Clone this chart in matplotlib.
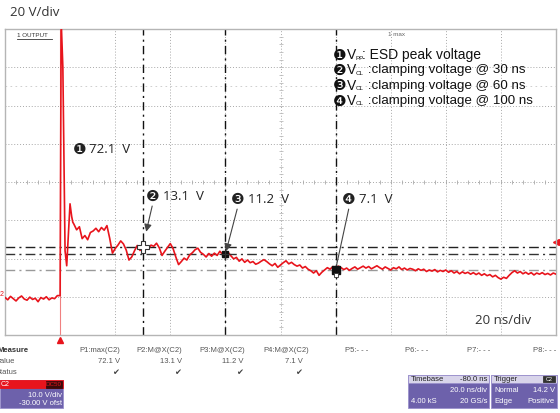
import matplotlib.pyplot as plt
import matplotlib.patches as mpatches
from matplotlib.lines import Line2D
import numpy as np

W, H = 560, 414

# scope trace, ns / V  (C2 output during an ESD strike)
t_pre = np.arange(-20, 0)
v_pre = [-0.2, -0.8, 0.1, -0.5, -1.1, -0.3, 0.2, -0.6, -0.9, -0.1,
         -0.7, -0.4, -1.3, -0.2, -0.6, 0.0, -0.8, -0.3, -0.5, 0.3]
t_hit = [0, 0.4, 1.0, 1.8, 2.4, 3.0, 3.6, 4.2, 4.6]
v_hit = [0.3, 72.1, 60.0, 12.0, 8.1, 16.0, 24.3, 21.0, 19.5]
t_post = np.arange(5, 181)
v_post = [19.0, 17.5, 18.3, 15.2, 16.0, 14.9, 16.8, 17.2, 17.9, 17.0,
          18.1, 17.4, 18.6, 15.3, 11.4, 12.6, 13.5, 14.6, 13.8, 12.2,
          9.6, 10.4, 12.0, 13.4, 12.1, 12.6, 13.1, 12.4, 13.5, 13.2,
          14.0, 12.8, 10.8, 11.9, 12.9, 13.9, 12.6, 10.4, 8.4, 9.2,
          10.1, 9.6, 10.9, 11.5, 12.3, 12.7, 11.6, 11.1, 10.4, 11.3,
          10.6, 11.4, 10.8, 11.9, 11.0, 11.3, 11.6, 10.7, 9.9, 10.3,
          9.3, 9.9, 9.0, 9.6, 8.9, 9.2, 8.5, 8.8, 9.3, 9.7,
          9.2, 8.6, 8.1, 8.7, 7.7, 8.3, 8.9, 9.4, 8.6, 9.0,
          8.4, 8.0, 8.3, 7.5, 7.9, 7.2, 6.8, 6.2, 6.8, 5.6,
          6.4, 7.0, 7.6, 7.2, 7.9, 7.4, 8.0, 7.6, 7.1, 7.5,
          6.9, 7.4, 7.8, 7.2, 7.6, 8.0, 7.5, 7.9, 7.3, 7.7,
          8.1, 7.6, 7.2, 7.8, 7.4, 7.0, 7.6, 7.3, 7.8, 7.1,
          7.5, 7.0, 7.4, 7.2, 6.8, 7.3, 6.9, 7.2, 6.6, 7.0,
          6.7, 7.1, 6.5, 6.9, 6.6, 7.0, 6.4, 6.8, 6.2, 6.6,
          6.0, 6.5, 6.1, 6.4, 5.9, 6.3, 5.8, 6.2, 5.6, 6.0,
          5.5, 5.8, 5.2, 5.6, 5.0, 4.6, 5.1, 4.8, 5.6, 6.3,
          6.8, 6.2, 6.6, 6.0, 6.4, 5.9, 6.3, 5.7, 6.2, 5.9,
          6.3, 5.8, 6.1, 5.7, 6.2, 5.9]

cursor_t = [30, 60, 100]
cursor_v = [13.1, 11.2, 7.1]
peak_v = 72.1
trig_level = 14.2

legend_sub = ["PP", "CL", "CL", "CL"]
legend_txt = [": ESD peak voltage", " :clamping voltage @ 30 ns",
              " :clamping voltage @ 60 ns", " :clamping voltage @ 100 ns"]
digits = ["\u2776", "\u2777", "\u2778", "\u2779"]

meas_names = ["P1:max(C2)", "P2:M@X(C2)", "P3:M@X(C2)", "P4:M@X(C2)"]
meas_vals = [peak_v] + cursor_v
empty_names = ["P5:- - -", "P6:- - -", "P7:- - -", "P8:- - -"]

t = np.concatenate([t_pre, t_hit, t_post])
v = np.concatenate([v_pre, v_hit, v_post])

RED = "#e8141c"
SANS = ["Liberation Sans", "DejaVu Sans"]
OPEN = ["Open Sans", "DejaVu Sans"]
DJ = ["DejaVu Sans"]


def fx(px):
    return px / W


def fy(py):
    return 1 - py / H


fig = plt.figure(figsize=(W / 100, H / 100), dpi=100)
ax = fig.add_axes([fx(5), fy(336), 551 / W, 306 / H])
ax.set_xlim(-20, 180)
ax.set_ylim(-10, 70)
ax.set_xticks(np.arange(-20, 181, 20))
ax.set_yticks(np.arange(-10, 71, 10))
ax.tick_params(length=0, labelbottom=False, labelleft=False)
ax.grid(True, color="#a8a8a8", linestyle=(0, (1, 2)), linewidth=0.7)
for s in ax.spines.values():
    s.set_color("#b5b5b5")
    s.set_linewidth(1)

# centre graticule ticks
ax.plot(np.arange(-20, 181, 4), np.full(51, 30), "|", color="#aaa", ms=3, mew=0.6)
ax.plot(np.full(41, 80), np.arange(-10, 71, 2), "_", color="#bbb", ms=3, mew=0.6)
ax.axhline(55, color="#c8c8c8", linestyle=(0, (2, 4)), linewidth=0.6)

# cursors
ax.axhline(cursor_v[0], color="#222", linestyle=(0, (7, 3, 1.5, 3)), linewidth=1)
ax.axhline(cursor_v[1], color="#333", linestyle=(0, (7, 3, 1.5, 3)), linewidth=1)
ax.axhline(cursor_v[2], color="#999", linestyle=(0, (7, 3, 1.5, 3)), linewidth=1)
for ct in cursor_t:
    ax.axvline(ct, color="#111", linestyle=(0, (6, 3, 1.5, 3)), linewidth=1)

ax.axvline(0, color="#f08080", linewidth=0.8)
ax.plot(t, v, color=RED, linewidth=1.2, zorder=3)

# markers on the measured points
ax.plot(cursor_t[0], cursor_v[0], "P", ms=8, mfc="white", mec="#333", mew=0.8, zorder=4)
ax.plot(cursor_t[1], cursor_v[1], "s", ms=5, color="#111", zorder=4)
ax.plot(cursor_t[1], cursor_v[1], "+", ms=9, color="#333", mew=0.8, zorder=4)
ax.plot(cursor_t[2], cursor_v[2], "s", ms=5.5, color="#111", zorder=4)
ax.plot(cursor_t[2], cursor_v[2] - 1.4, "s", ms=3.5, mfc="white", mec="#333", mew=0.6, zorder=4)

# trigger markers
ax.plot([0], [-0.015], "^", color=RED, ms=5, transform=ax.get_xaxis_transform(), clip_on=False)
ax.plot([1.0], [trig_level], "<", color=RED, ms=5, transform=ax.get_yaxis_transform(), clip_on=False)

# callouts: big circled digit + value, arrow from the digit
ax.text(7.0, 38.7, digits[0], fontsize=11, family=DJ, color="#222", ha="center", va="center")
ax.text(10.6, 38.7, "72.1  V", fontsize=9.5, family=OPEN, color="#222", va="center")
call_xy = [(33.6, 26.4), (64.5, 25.6), (104.9, 25.6)]
call_style = [("-|>", 11), ("-|>", 2), ("-", 2)]
for i in range(3):
    dx, dy = call_xy[i]
    st, shr = call_style[i]
    ax.annotate(digits[i + 1], xy=(cursor_t[i], cursor_v[i]), xytext=(dx, dy),
                fontsize=11, family=DJ, color="#222", ha="center", va="center",
                arrowprops=dict(arrowstyle=st, color="#444", lw=0.8, shrinkA=0,
                                shrinkB=shr, relpos=(0.55, 0.15)))
    ax.text(dx + 3.6, dy, "%.1f  V" % cursor_v[i], fontsize=9.5, family=OPEN,
            color="#222", va="center")

# legend block
for i in range(4):
    y = 55 + i * 15.3
    fig.text(fx(339.5), fy(y), digits[i], fontsize=11, family=DJ, ha="center", va="center", color="#111")
    fig.text(fx(346.5), fy(y), "V", fontsize=10, family=SANS, va="center", color="#111")
    fig.text(fx(355.5), fy(y + 3), legend_sub[i], fontsize=4.5, family=SANS, va="center", color="#111")
    fig.text(fx(362.5 if i == 0 else 364), fy(y), legend_txt[i], fontsize=10 if i == 0 else 9.6,
             family=SANS, va="center", color="#111")

fig.text(fx(388), fy(35), "1 max", fontsize=4.5, family=SANS, va="center", color="#666")
fig.text(fx(17), fy(36), "1 OUTPUT", fontsize=4.5, family=SANS, va="center", color="#333")
fig.add_artist(Line2D([fx(17), fx(52)], [fy(40), fy(40)], color="#333", lw=0.6))
fig.text(fx(0), fy(294), "2", fontsize=5, family=SANS, va="center", color=RED)

fig.text(fx(10), fy(13), "20 V/div", fontsize=9.5, family=OPEN, va="center", color="#333")
fig.text(fx(475), fy(321), "20 ns/div", fontsize=9.5, family=OPEN, va="center", color="#333")

# measurement panel (left edge of the row labels is cropped, as in the screenshot)
GRAY = "#555"
fig.text(fx(-3), fy(351), "Measure", fontsize=5.5, family=SANS, va="center", color="#333", weight="bold")
fig.text(fx(-3), fy(362), "value", fontsize=5.5, family=SANS, va="center", color=GRAY)
fig.text(fx(-3), fy(373), "status", fontsize=5.5, family=SANS, va="center", color=GRAY)
name_x = [100, 159, 222, 286]
val_x = [120, 182, 244, 303]
for i in range(4):
    fig.text(fx(name_x[i]), fy(351), meas_names[i], fontsize=5.5, family=SANS, ha="center", va="center", color=GRAY)
    fig.text(fx(val_x[i]), fy(362), "%.1f V" % meas_vals[i], fontsize=5.5, family=SANS, ha="right", va="center", color=GRAY)
    fig.text(fx(val_x[i] - 4), fy(373), "\u2714", fontsize=6, family=DJ, ha="center", va="center", color="#444")
for px, s in zip([345, 405, 467, 533], empty_names):
    fig.text(fx(px), fy(351), s, fontsize=5.5, family=SANS, va="center", color=GRAY)

PURPLE = "#6d61ab"


def box(x0, y0, x1, y1, fc, ec=None):
    fig.add_artist(mpatches.Rectangle((fx(x0), fy(y1)), (x1 - x0) / W, (y1 - y0) / H,
                                      facecolor=fc, edgecolor=ec or fc, linewidth=0.6))


# channel box
box(0, 381, 63, 409, PURPLE, "#9a90cc")
box(0, 381, 63, 389, RED)
box(46, 382, 62, 388.5, "#3a0a0a")
fig.text(fx(1), fy(385), "C2", fontsize=5, family=SANS, va="center", color="white")
fig.text(fx(61), fy(385), "DC50", fontsize=4.5, family=SANS, ha="right", va="center", color=RED)
fig.text(fx(62), fy(396), "10.0 V/div", fontsize=5.5, family=SANS, ha="right", va="center", color="white")
fig.text(fx(62), fy(404), "-30.00 V ofst", fontsize=5.5, family=SANS, ha="right", va="center", color="white")

# timebase / trigger boxes
for x0, x1 in [(408, 489), (491, 557)]:
    box(x0, 376, x1, 409, PURPLE, "#9a90cc")
    box(x0, 376, x1, 384, "#d8d4ea", "#9a90cc")
fig.text(fx(411), fy(380), "Timebase", fontsize=5.5, family=SANS, va="center", color="#222")
fig.text(fx(487), fy(380), "-80.0 ns", fontsize=5.5, family=SANS, ha="right", va="center", color="#222")
fig.text(fx(487), fy(391), "20.0 ns/div", fontsize=5.5, family=SANS, ha="right", va="center", color="white")
fig.text(fx(411), fy(402), "4.00 kS", fontsize=5.5, family=SANS, va="center", color="white")
fig.text(fx(487), fy(402), "20 GS/s", fontsize=5.5, family=SANS, ha="right", va="center", color="white")
fig.text(fx(494), fy(380), "Trigger", fontsize=5.5, family=SANS, va="center", color="#222")
box(543, 377, 555, 383, "#333")
fig.text(fx(549), fy(380), "C2", fontsize=4, family=SANS, ha="center", va="center", color="white")
fig.text(fx(494), fy(391), "Normal", fontsize=5.5, family=SANS, va="center", color="white")
fig.text(fx(555), fy(391), "%.1f V" % trig_level, fontsize=5.5, family=SANS, ha="right", va="center", color="white")
fig.text(fx(494), fy(402), "Edge", fontsize=5.5, family=SANS, va="center", color="white")
fig.text(fx(555), fy(402), "Positive", fontsize=5.5, family=SANS, ha="right", va="center", color="white")

fig.savefig("out.png", dpi=100)
